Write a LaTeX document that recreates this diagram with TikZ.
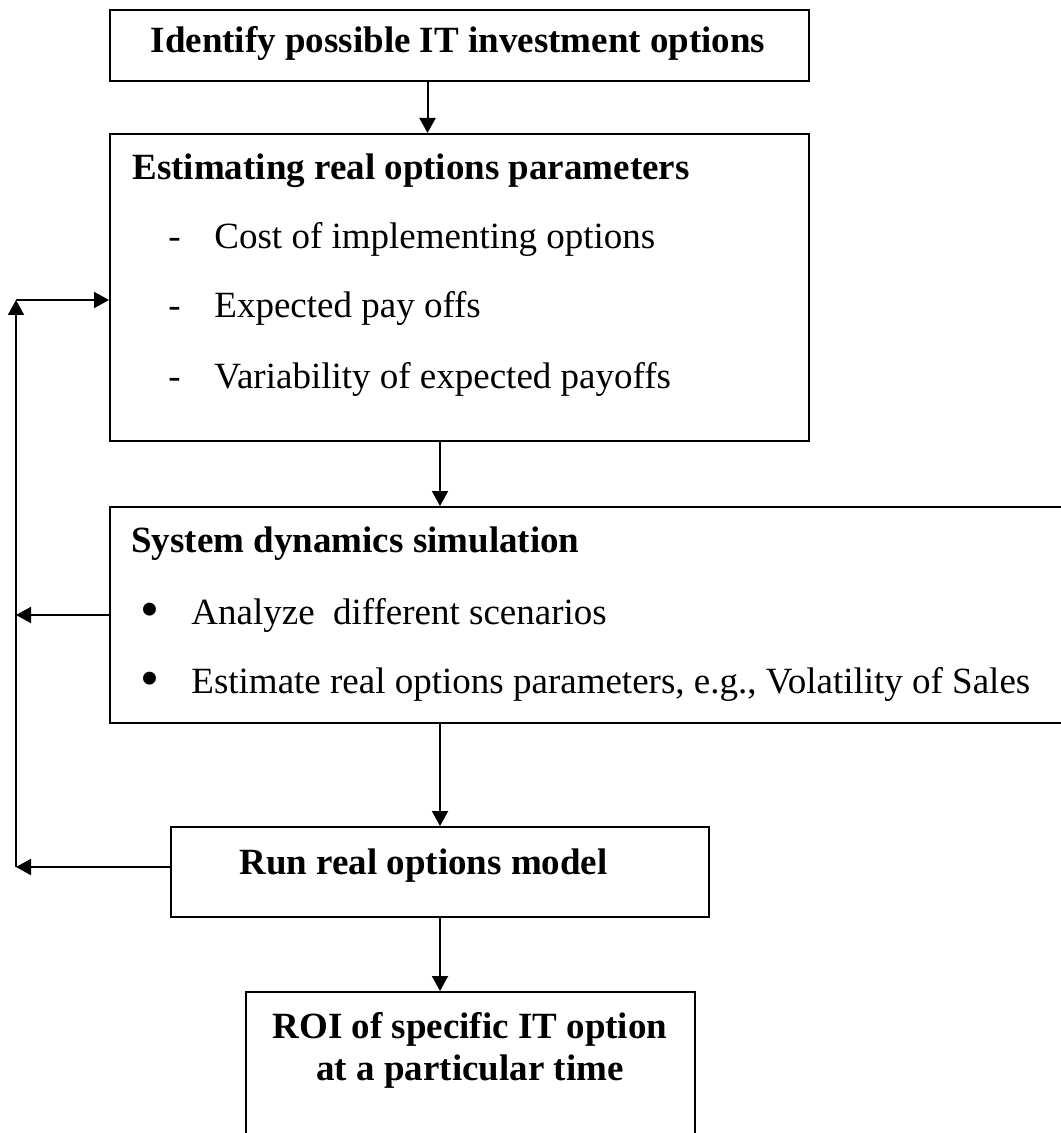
\documentclass[tikz,border=0pt]{standalone}
\usepackage{fontspec}
\setmainfont{Liberation Serif}
\usetikzlibrary{arrows.meta,positioning}
\tikzset{
    box/.style={draw, line width=1pt, anchor=north west, inner sep=0pt},
    txt/.style={anchor=base west, inner sep=0pt, font=\fontsize{18.5}{22}\selectfont},
    hd/.style={txt, font=\fontsize{18.5}{22}\selectfont\bfseries},
    dot/.style={anchor=base, inner sep=0pt, font=\fontsize{27}{27}\selectfont},
    arr/.style={line width=1pt, -{Triangle[length=7.5pt,width=8pt]}},
}
\begin{document}
\begin{tikzpicture}[x=0.5pt,y=-0.5pt]
        \useasboundingbox (0,0) rectangle (1060,1133);
        \node[box, minimum width=349.5pt, minimum height=35.5pt] (identify) at (109,9) {};
        \node[box, minimum width=349.5pt, minimum height=153.5pt] (estim) at (109,133) {};
        \node[box, minimum width=483pt, minimum height=108pt] (sysdyn) at (109,506) {};
        \node[box, minimum width=269pt, minimum height=45pt] (run) at (170,826) {};
        \node[box, minimum width=224.5pt, minimum height=100pt] (roi) at (245,991) {};
        \node[hd, anchor=base] (t-identify) at (458,53) {Identify possible IT investment options};
        \node[hd] (t-estim) at (132,180) {Estimating real options parameters};
        \node[txt] (d-cost) at (168,249) {-};
        \node[txt] (t-cost) at (214,249) {Cost of implementing options};
        \node[txt] (d-pay) at (168,318) {-};
        \node[txt] (t-pay) at (214,318) {Expected pay offs};
        \node[txt] (d-var) at (168,389) {-};
        \node[txt] (t-var) at (214,389) {Variability of expected payoffs};
        \node[hd] (t-sysdyn) at (131,552) {System dynamics simulation};
        \node[dot] (b-scen) at (150,627) {\textbullet};
        \node[txt] (t-scen) at (191,624) {Analyze~ different scenarios};
        \node[dot] (b-vol) at (150,696) {\textbullet};
        \node[txt] (t-vol) at (191,693) {Estimate real options parameters, e.g., Volatility of Sales};
        \node[hd] (t-run) at (239,874) {Run real options model};
        \node[hd, anchor=base] (t-roi1) at (470,1038) {ROI of specific IT option};
        \node[hd, anchor=base] (t-roi2) at (470,1080) {at a particular time};
        \draw[arr] ([xshift=-16pt]identify.south) -- ([xshift=-16pt]estim.north);
        \draw[arr] (estim.south -| run.north) -- (sysdyn.north -| run.north);
        \draw[arr] (sysdyn.south -| run.north) -- (run.north);
        \draw[arr] (run.south) -- (roi.north -| run.south);
        \coordinate (fbtop) at (16,300);
        \coordinate (fbbot) at (16,867);
        \draw[arr] (fbbot) -- (fbtop);
        \draw[arr] (fbtop) -- (fbtop -| estim.west);
        \draw[arr] (sysdyn.west) -- (sysdyn.west -| fbtop);
        \draw[arr] (run.west |- fbbot) -- (fbbot);
    \end{tikzpicture}
\end{document}
